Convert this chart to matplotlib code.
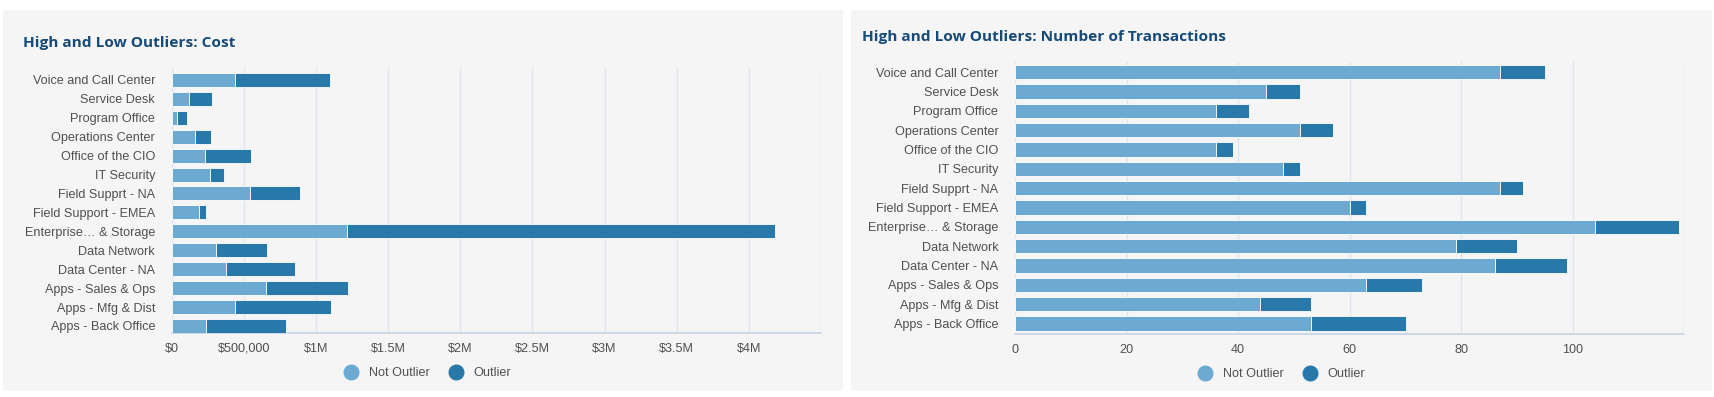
import matplotlib
matplotlib.use("Agg")
import matplotlib.pyplot as plt
from matplotlib.patches import Rectangle
from matplotlib.lines import Line2D
from matplotlib.ticker import FixedLocator

categories = ["Voice and Call Center", "Service Desk", "Program Office", "Operations Center",
              "Office of the CIO", "IT Security", "Field Supprt - NA", "Field Support - EMEA",
              "Enterprise\u2026 & Storage", "Data Network", "Data Center - NA",
              "Apps - Sales & Ops", "Apps - Mfg & Dist", "Apps - Back Office"]

cost_not_outlier = [438000, 122000, 34000, 164000, 229000, 267000, 541000, 187000,
                    1215000, 309000, 377000, 651000, 442000, 240000]
cost_outlier = [662000, 160000, 73000, 110000, 320000, 95000, 350000, 49000,
                2968000, 350000, 476000, 568000, 659000, 549000]

tx_not_outlier = [87, 45, 36, 51, 36, 48, 87, 60, 104, 79, 86, 63, 44, 53]
tx_outlier = [8, 6, 6, 6, 3, 3, 4, 3, 15, 11, 13, 10, 9, 17]

cost_ticks = [0, 500000, 1000000, 1500000, 2000000, 2500000, 3000000, 3500000, 4000000]
cost_tick_labels = ["$0", "$500,000", "$1M", "$1.5M", "$2M", "$2.5M", "$3M", "$3.5M", "$4M"]
tx_ticks = [0, 20, 40, 60, 80, 100]
tx_tick_labels = ["0", "20", "40", "60", "80", "100"]

series_names = ["Not Outlier", "Outlier"]
titles = ["High and Low Outliers: Cost", "High and Low Outliers: Number of Transactions"]

LIGHT = "#6caad2"
DARK = "#2878aa"
PANEL = "#f5f5f5"
TITLE_C = "#164a78"
GRID_C = "#dfe5ec"

W, H = 1715, 397
fig = plt.figure(figsize=(W / 100, H / 100), dpi=100)
fig.patch.set_facecolor("white")

def px(x0, y0, x1, y1):
    return [x0 / W, 1 - y1 / H, (x1 - x0) / W, (y1 - y0) / H]

# panels
for (x0, x1) in [(3, 843), (851, 1712)]:
    fig.patches.append(Rectangle((x0 / W, 1 - 391 / H), (x1 - x0) / W, (391 - 10) / H,
                                 transform=fig.transFigure, facecolor=PANEL,
                                 edgecolor="none", zorder=-5))

label_font = ["Liberation Sans", "DejaVu Sans"]
title_font = ["Open Sans", "DejaVu Sans"]
FS = 9.1

def draw(ax, a, b, xmax, ticks, tlabels, ylim):
    ypos = list(range(len(categories)))
    ax.barh(ypos, a, height=0.74, color=LIGHT, edgecolor="white", linewidth=0.6, zorder=3)
    ax.barh(ypos, b, left=a, height=0.74, color=DARK, edgecolor="white", linewidth=0.6, zorder=3)
    ax.set_xlim(0, xmax)
    ax.set_ylim(*ylim)
    ax.set_facecolor(PANEL)
    ax.set_yticks(ypos)
    ax.set_yticklabels(categories, fontsize=FS, color="#505050", family=label_font)
    grid = list(ticks) + [xmax]
    ax.xaxis.set_major_locator(FixedLocator(ticks))
    ax.set_xticklabels(tlabels, fontsize=FS, color="#505050", family=label_font)
    for g in grid:
        ax.axvline(g, color=GRID_C, linewidth=1.0, zorder=1)
    for s in ["top", "right", "left"]:
        ax.spines[s].set_visible(False)
    ax.spines["bottom"].set_color("#c8d4e4")
    ax.spines["bottom"].set_linewidth(1.2)
    ax.tick_params(axis="both", length=0)
    ax.tick_params(axis="x", pad=7)
    ax.tick_params(axis="y", pad=12)

ax1 = fig.add_axes(px(171.7, 68, 821, 333))
draw(ax1, cost_not_outlier, cost_outlier, 4500000, cost_ticks, cost_tick_labels, (13.37, -0.63))
ax2 = fig.add_axes(px(1015, 62, 1684.5, 334))
draw(ax2, tx_not_outlier, tx_outlier, 120, tx_ticks, tx_tick_labels, (13.55, -0.52))

fig.text(23 / W, 1 - 43 / H, titles[0], fontsize=11.1, fontweight="bold", color=TITLE_C,
         family=title_font, va="center", ha="left")
fig.text(862 / W, 1 - 37 / H, titles[1], fontsize=11.1, fontweight="bold", color=TITLE_C,
         family=title_font, va="center", ha="left")

handles = [Line2D([], [], marker="o", linestyle="none", markersize=10.5,
                  markerfacecolor=c, markeredgecolor=c) for c in (LIGHT, DARK)]
for cx, cy in [(425, 373), (1279, 374)]:
    leg = fig.legend(handles, series_names, loc="center", bbox_to_anchor=(cx / W, 1 - cy / H),
                     ncol=2, frameon=False, handletextpad=0.4, columnspacing=1.1,
                     prop={"family": label_font, "size": FS})
    for t in leg.get_texts():
        t.set_color("#505050")

fig.savefig("out.png", dpi=100, facecolor="white")
